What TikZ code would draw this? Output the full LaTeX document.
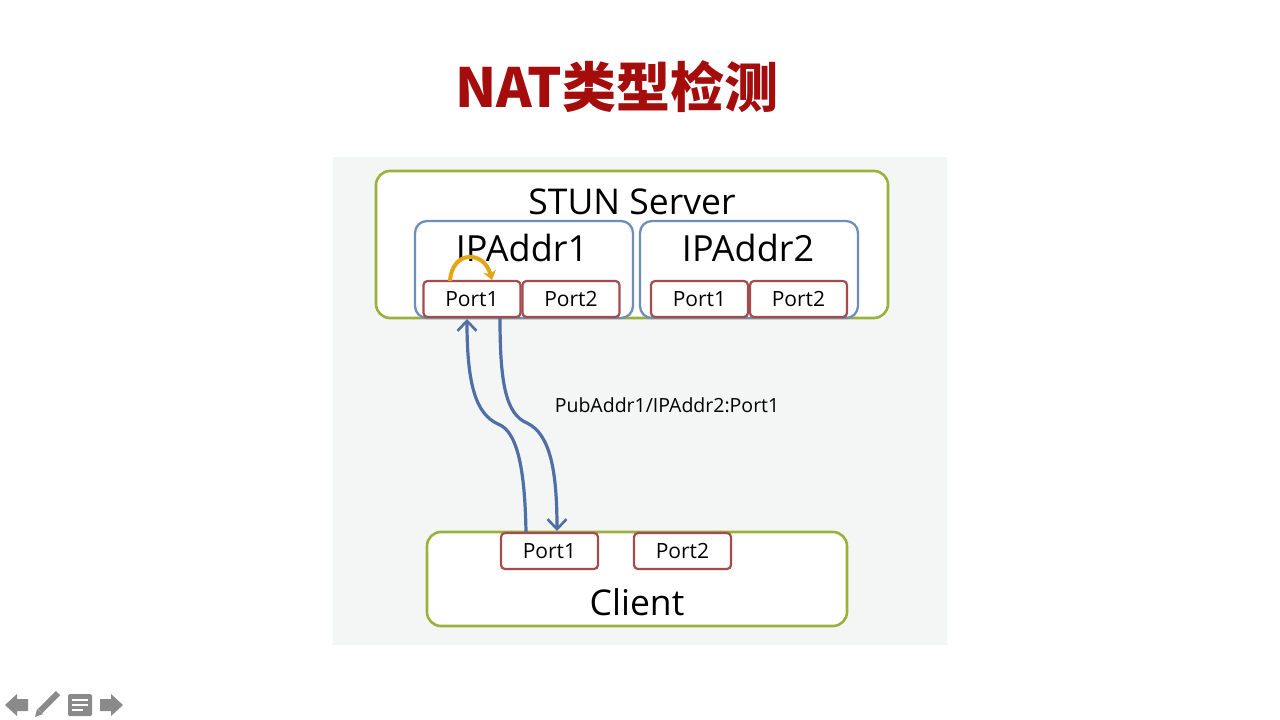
\documentclass[tikz,border=0pt]{standalone}
\usepackage{fontspec}
\setmainfont{Open Sans}
\newfontfamily\cjk{Noto Sans CJK SC}
\usetikzlibrary{arrows.meta}
\definecolor{titlered}{HTML}{A50C0C}
\definecolor{boxgreen}{HTML}{9CB03C}
\definecolor{boxblue}{HTML}{6E8DB8}
\definecolor{portred}{HTML}{A54B50}
\definecolor{arrblue}{HTML}{4F6FA5}
\definecolor{arcgold}{HTML}{E4A514}
\definecolor{bggrey}{HTML}{F4F5F5}
\definecolor{navgrey}{HTML}{8A8A8A}
\tikzset{
  greenbox/.style={draw=boxgreen,line width=2.6pt,fill=white,rounded corners=14pt,inner sep=0pt},
  bluebox/.style={draw=boxblue,line width=2.3pt,fill=white,rounded corners=12pt,inner sep=0pt},
  portbox/.style={draw=portred,line width=2.2pt,fill=white,rounded corners=4pt,inner sep=0pt,
    minimum width=97pt,minimum height=36pt,font=\fontsize{21}{23}\selectfont},
  bigtext/.style={inner sep=0pt,font=\fontsize{35.5}{38}\selectfont},
  arr/.style={draw=arrblue,line width=3.2pt,-{Straight Barb[length=10pt,width=19pt,line width=2.6pt]}},
}
\begin{document}
\begin{tikzpicture}[x=1pt,y=-1pt]
\useasboundingbox[fill=white] (0,0) rectangle (1280,720);
% title
\node[inner sep=0pt,text=titlered,font=\cjk\bfseries\fontsize{54}{60}\selectfont] (title) at (617,87) {NAT类型检测};
% diagram background
\fill[bggrey] (333,157) rectangle (947,645);
% STUN server
\node[greenbox,minimum width=512pt,minimum height=147pt] (stun) at (632,244.5) {};
\node[bigtext] (stunlbl) at (632,202) {STUN Server};
\node[bluebox,minimum width=218pt,minimum height=97pt] (ip1) at (524,269.5) {};
\node[bluebox,minimum width=218pt,minimum height=97pt] (ip2) at (749,269.5) {};
\node[bigtext,font=\fontsize{36}{38}\selectfont] (ip1lbl) at (522,248) {IPAddr1};
\node[bigtext,font=\fontsize{36}{38}\selectfont] (ip2lbl) at (748,248) {IPAddr2};
\node[portbox] (s1p1) at (472,299) {Port1};
\node[portbox] (s1p2) at (571,299) {Port2};
\node[portbox] (s2p1) at (699.5,299) {Port1};
\node[portbox] (s2p2) at (798.5,299) {Port2};
% client
\node[greenbox,minimum width=420pt,minimum height=94pt] (client) at (637,579) {};
\node[bigtext] (clientlbl) at (637,602) {Client};
\node[portbox] (cp1) at (549.5,551) {Port1};
\node[portbox] (cp2) at (682.5,551) {Port2};
% arrows
\coordinate (upstart) at (526,532);
\coordinate (upbend) at (498,424);
\coordinate (upend) at (467,319);
\draw[arr] (upstart) .. controls (525,480) and (520,432) .. (upbend)
  .. controls (476,414) and (467,385) .. (upend);
\coordinate (dnstart) at (500,318);
\coordinate (dnbend) at (527,423);
\coordinate (dnend) at (557,531);
\draw[arr] (dnstart) .. controls (500,380) and (505,414) .. (dnbend)
  .. controls (550,434) and (557,470) .. (dnend);
% yellow arc
\coordinate (arcA) at (450,281);
\coordinate (arcB) at (492,280);
\draw[draw=arcgold,line width=4pt,-{Stealth[length=9pt,width=13pt]}] (arcA) .. controls (452,250) and (484,250) .. (arcB);
% label
\node[inner sep=0pt,font=\fontsize{19.5}{22}\selectfont] (lbl) at (667,405) {PubAddr1/IPAddr2:Port1};
% nav icons
\fill[navgrey] (5,705) -- (17,694) -- (17,699) -- (28,699) -- (28,711) -- (17,711) -- (17,716) -- cycle;
\fill[navgrey] (123,705) -- (111,694) -- (111,699) -- (100,699) -- (100,711) -- (111,711) -- (111,716) -- cycle;
\draw[navgrey,line width=6pt] (40,711) -- (58,693);
\fill[navgrey] (35,717) -- (37,709) -- (43,714) -- cycle;
\fill[navgrey,rounded corners=1.5pt] (68,694) rectangle (92,716);
\draw[white,line width=1.6pt] (72,700) -- (88,700) (72,705) -- (88,705) (72,710) -- (83,710);
\end{tikzpicture}
\end{document}
